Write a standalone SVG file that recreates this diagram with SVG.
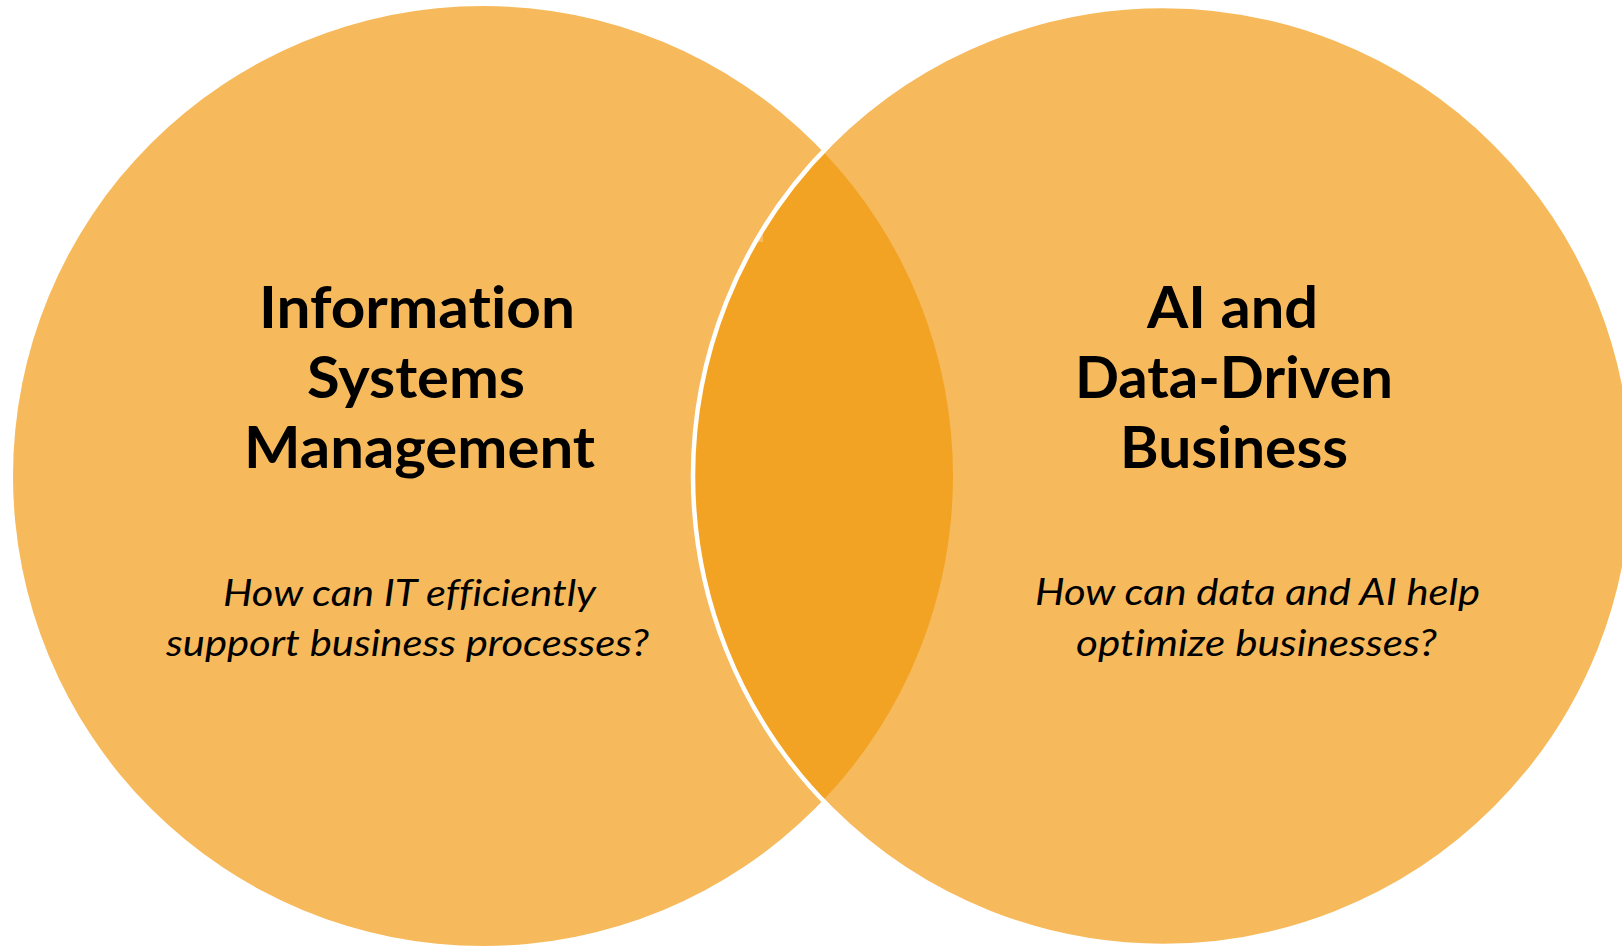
<svg xmlns="http://www.w3.org/2000/svg" width="1622" height="947" viewBox="0 0 1622 947">
<style>
.circ{fill:#F6BA5C}
.lens{fill:#F2A324}
.outline{fill:none;stroke:#FFFFFF;stroke-width:4.5}
.title{font-family:Lato,"Open Sans","Liberation Sans",sans-serif;font-weight:700;font-size:58px;fill:#000000;font-variant-ligatures:none}
.sub{font-family:Lato,"Open Sans","Liberation Sans",sans-serif;font-style:italic;font-size:36px;fill:#000000;font-variant-ligatures:none}
</style>
<rect x="0" y="0" width="1622" height="947" fill="#FFFFFF"/>
<g id="circle-left">
<circle class="circ" cx="483" cy="476" r="470"/>
</g>
<g id="circle-right">
<circle class="circ" cx="1163" cy="476" r="470"/>
</g>
<g id="overlap">
<path class="lens" d="M823,151.5 A470,470 0 0 0 823,800.5 A470,470 0 0 0 823,151.5 Z"/>
<circle class="outline" cx="1163" cy="476" r="470"/>
</g>
<g id="label-left">
<text class="title" x="259" y="328" textLength="316" lengthAdjust="spacingAndGlyphs">Information</text>
<text class="title" x="307" y="398" textLength="218" lengthAdjust="spacingAndGlyphs">Systems</text>
<text class="title" x="244" y="468" textLength="351" lengthAdjust="spacingAndGlyphs">Management</text>
<text class="sub" x="223" y="606" textLength="373" lengthAdjust="spacingAndGlyphs">How can IT efficiently</text>
<text class="sub" x="166" y="656" textLength="483" lengthAdjust="spacingAndGlyphs">support business processes?</text>
</g>
<g id="label-right">
<text class="title" x="1147" y="328" textLength="171" lengthAdjust="spacingAndGlyphs">AI and</text>
<text class="title" x="1075" y="398" textLength="318" lengthAdjust="spacingAndGlyphs">Data-Driven</text>
<text class="title" x="1120" y="468" textLength="228" lengthAdjust="spacingAndGlyphs">Business</text>
<text class="sub" x="1035" y="605" textLength="445" lengthAdjust="spacingAndGlyphs">How can data and AI help</text>
<text class="sub" x="1076" y="656" textLength="361" lengthAdjust="spacingAndGlyphs">optimize businesses?</text>
</g>
<g id="connectors"></g>
</svg>
